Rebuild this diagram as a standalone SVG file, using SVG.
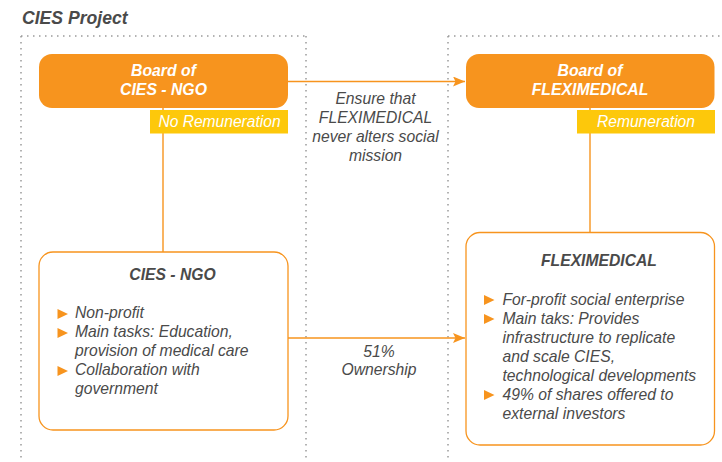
<svg xmlns="http://www.w3.org/2000/svg" width="722" height="462" viewBox="0 0 722 462">
<style>
text{font-family:"Liberation Sans",Arial,sans-serif;font-style:italic;}
.t{fill:#4a4a4a;font-size:15.7px;}
.tb{fill:#4a4a4a;font-size:15.7px;font-weight:bold;}
.w{fill:#ffffff;font-size:15.8px;font-weight:bold;}
.wy{fill:#ffffff;font-size:15.6px;}
.board{fill:#F7941E;}
.box{fill:#ffffff;stroke:#F7941E;stroke-width:1.3;}
.tag{fill:#FDC80B;}
.dot{stroke:#9a9a9a;stroke-width:1.5;stroke-dasharray:1.5 4.5;fill:none;}
.ln{stroke:#F7941E;stroke-width:1.4;fill:none;}
.bul{fill:#F7941E;}
</style>
<defs>
<marker id="arr" markerWidth="12" markerHeight="10" refX="12" refY="5" orient="auto" markerUnits="userSpaceOnUse">
<path d="M0,0 L12,5 L0,10 L2.5,5 z" fill="#F7941E"/>
</marker>
</defs>
<rect width="722" height="462" fill="#ffffff"/>
<text x="22" y="24" style="font-size:17.6px;font-weight:bold;fill:#4a4a4a">CIES Project</text>
<g id="frames">
<path class="dot" d="M21,36 H306 M21,36 V462 M306,36 V462"/>
<path class="dot" d="M448,36 H722 M448,36 V462"/>
</g>
<g id="connectors">
<path class="ln" d="M163,108 V252"/>
<path class="ln" d="M590,108 V232"/>
<path class="ln" d="M288,81.5 H465" marker-end="url(#arr)"/>
<path class="ln" d="M288,338 H465" marker-end="url(#arr)"/>
<text class="t" text-anchor="middle"><tspan x="375.5" y="104">Ensure that</tspan><tspan x="375.5" y="123">FLEXIMEDICAL</tspan><tspan x="375.5" y="142">never alters social</tspan><tspan x="375.5" y="160.5">mission</tspan></text>
<text class="t" text-anchor="middle"><tspan x="379" y="356.5">51%</tspan><tspan x="379" y="375">Ownership</tspan></text>
</g>
<g id="board-ngo">
<rect class="board" x="39" y="54" width="249" height="54" rx="13"/>
<text class="w" text-anchor="middle"><tspan x="163.5" y="75.5">Board of</tspan><tspan x="163.5" y="94.5">CIES - NGO</tspan></text>
<rect class="tag" x="150" y="110" width="138" height="23.5"/>
<text class="wy" x="219.5" y="126.5" text-anchor="middle">No Remuneration</text>
</g>
<g id="board-flex">
<rect class="board" x="466" y="54" width="248.5" height="54" rx="13"/>
<text class="w" text-anchor="middle"><tspan x="590" y="75.5">Board of</tspan><tspan x="590" y="94.5">FLEXIMEDICAL</tspan></text>
<rect class="tag" x="577" y="110" width="138" height="23.5"/>
<text class="wy" x="646" y="126.5" text-anchor="middle">Remuneration</text>
</g>
<g id="cies-ngo">
<rect class="box" x="39" y="252" width="249" height="178" rx="14"/>
<text class="tb" x="172.5" y="280" text-anchor="middle">CIES - NGO</text>
<path class="bul" d="M57.5,309 L68,314 L57.5,319 z M57.5,328 L68,333 L57.5,338 z M57.5,366 L68,371 L57.5,376 z"/>
<text class="t"><tspan x="75" y="318">Non-profit</tspan><tspan x="75" y="337">Main tasks: Education,</tspan><tspan x="75" y="356">provision of medical care</tspan><tspan x="75" y="375">Collaboration with</tspan><tspan x="75" y="394">government</tspan></text>
</g>
<g id="fleximedical">
<rect class="box" x="466" y="232.5" width="248.5" height="212.5" rx="14"/>
<text class="tb" x="599" y="266" text-anchor="middle">FLEXIMEDICAL</text>
<path class="bul" d="M484,295 L494.5,300 L484,305 z M484,314 L494.5,319 L484,324 z M484,390 L494.5,395 L484,400 z"/>
<text class="t"><tspan x="502.5" y="304.5">For-profit social enterprise</tspan><tspan x="502.5" y="323.5">Main taks: Provides</tspan><tspan x="502.5" y="342.5">infrastructure to replicate</tspan><tspan x="502.5" y="361.5">and scale CIES,</tspan><tspan x="502.5" y="380.5">technological developments</tspan><tspan x="502.5" y="399.5">49% of shares offered to</tspan><tspan x="502.5" y="418.5">external investors</tspan></text>
</g>
</svg>
